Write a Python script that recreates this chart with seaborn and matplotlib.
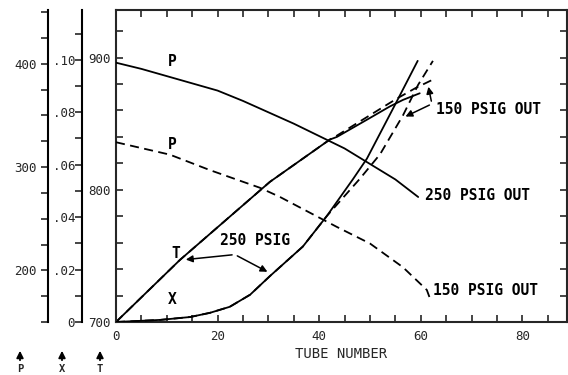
import matplotlib
matplotlib.use('Agg')
import matplotlib.pyplot as plt
from matplotlib.ticker import MultipleLocator, FuncFormatter
import seaborn as sns

# pressure P (psig) along the tubes
p250_tube = [0, 5, 10, 15, 20, 25, 30, 35, 40, 45, 50, 55, 59.5]
p_250 = [401, 395, 388, 381, 374, 364, 353, 342, 330, 318, 303, 288, 271]
p150_tube = [0, 10.6, 18.5, 28.3, 32.3, 43.5, 50, 56.5, 61.2, 61.8]
p_150 = [324, 312, 297, 280, 271, 242, 226, 203, 181, 173]

# temperature T (F)
t250_tube = [0, 12.6, 30.3, 42.1, 43.5, 49.4, 53.9, 56.5, 59.8]
t_250 = [700, 747, 806, 838, 840, 853, 863, 868, 873]
t150_tube = [0, 12.6, 30.3, 42.1, 43.5, 49.4, 55.3, 59, 62.2]
t_150 = [700, 747, 806, 838, 841, 855, 869, 877, 883]

# quality X
x250_tube = [0, 8.7, 14.6, 18.5, 22.4, 26.4, 30.3, 36.8, 41.5, 46.7, 49.4, 55.3, 59.4]
x_250 = [0, .0008, .0019, .0035, .0058, .0104, .0175, .0288, .0404, .0546, .0623, .0842, .0996]
x150_tube = [0, 8.7, 14.6, 18.5, 22.4, 26.4, 30.3, 36.8, 41.5, 48, 52, 56.5, 59.5, 62.4]
x_150 = [0, .0008, .0019, .0035, .0058, .0104, .0175, .0288, .0404, .0546, .0640, .0788, .0905, .0996]

sns.set_style('ticks')
plt.rcParams['font.family'] = ['DejaVu Sans Mono']
plt.rcParams['axes.linewidth'] = 1.5

W, H = 568, 375
fig = plt.figure(figsize=(W / 100, H / 100), dpi=100)
ax = fig.add_axes([116 / W, 1 - 322 / H, 451 / W, 312 / H])
ax_p = ax.twinx()
ax_x = ax.twinx()

solid = dict(color='black', lw=1.3)
dash = dict(color='black', lw=1.3, linestyle=(0, (5, 3)))

sns.lineplot(x=t250_tube, y=t_250, ax=ax, **solid)
sns.lineplot(x=t150_tube, y=t_150, ax=ax, **dash)
sns.lineplot(x=p250_tube, y=p_250, ax=ax_p, **solid)
sns.lineplot(x=p150_tube, y=p_150, ax=ax_p, **dash)
sns.lineplot(x=x250_tube, y=x_250, ax=ax_x, **solid)
sns.lineplot(x=x150_tube, y=x_150, ax=ax_x, **dash)

# main axes: tube number / temperature
ax.set_xlim(0, 88.8)
ax.set_ylim(700, 936)
ax.xaxis.set_major_locator(MultipleLocator(20))
ax.xaxis.set_minor_locator(MultipleLocator(5))
ax.yaxis.set_major_locator(MultipleLocator(100))
ax.yaxis.set_minor_locator(MultipleLocator(20))
ax.tick_params(which='both', direction='in', top=True, right=True, left=True,
               bottom=True, labelright=False, labeltop=False, width=1.2, length=5)
ax.tick_params(axis='x', labelsize=9, pad=6)
ax.tick_params(axis='y', labelsize=9, pad=4)
ax.set_xlabel('TUBE NUMBER', fontsize=10, labelpad=3)
ax.set_ylabel('')

for a, pos in ((ax_p, (48 - 116) / 451), (ax_x, (82 - 116) / 451)):
    a.patch.set_visible(False)
    for s in ('top', 'right', 'bottom'):
        a.spines[s].set_visible(False)
    a.spines['left'].set_visible(True)
    a.spines['left'].set_position(('axes', pos))
    a.spines['left'].set_linewidth(1.5)
    a.spines['left'].set_color('black')
    a.yaxis.set_ticks_position('left')
    a.yaxis.set_label_position('left')
    a.set_ylabel('')
    a.tick_params(which='both', direction='out', length=5, width=1.2, labelsize=9)

ax_p.set_ylim(150, 452)
ax_p.yaxis.set_major_locator(MultipleLocator(25))
ax_p.yaxis.set_major_formatter(FuncFormatter(lambda v, _: f'{v:.0f}' if round(v) % 100 == 0 else ''))
ax_p.tick_params(pad=3)

ax_x.set_ylim(0, 0.119)
ax_x.yaxis.set_major_locator(MultipleLocator(0.01))


def qfmt(v, _):
    n = int(round(v * 100))
    if n % 2:
        return ''
    return '0' if n == 0 else f'{v:.2f}'.lstrip('0')


ax_x.yaxis.set_major_formatter(FuncFormatter(qfmt))
ax_x.tick_params(pad=0)

# curve labels
txt = dict(fontsize=10.5, fontweight='bold', color='black')
ax.text(11, 897, 'P', ha='center', va='center', **txt)
ax.text(11, 834, 'P', ha='center', va='center', **txt)
ax.text(11.8, 752, 'T', ha='center', va='center', **txt)
ax.text(11, 717, 'X', ha='center', va='center', **txt)
ax.text(27.4, 762, '250 PSIG', ha='center', va='center', **txt)
ax.text(60.8, 796, '250 PSIG OUT', ha='left', va='center', **txt)
ax.text(63, 861, '150 PSIG OUT', ha='left', va='center', **txt)
ax.text(62.4, 723.5, '150 PSIG OUT', ha='left', va='center', **txt)

arrow = dict(arrowstyle='-|>', color='black', lw=1.1, mutation_scale=10)
ax.annotate('', xy=(13.2, 747), xytext=(23.4, 751), arrowprops=arrow)
ax.annotate('', xy=(30.3, 737), xytext=(23.4, 751), arrowprops=arrow)
ax.annotate('', xy=(61.4, 880), xytext=(62.2, 865), arrowprops=arrow)
ax.annotate('', xy=(56.5, 854.5), xytext=(62.2, 865), arrowprops=arrow)

# axis key arrows under the scales
for px, letter in ((20, 'P'), (62, 'X'), (100, 'T')):
    ax.annotate('', xy=(px / W, 1 - 348 / H), xytext=(px / W, 1 - 363 / H),
                xycoords='figure fraction', textcoords='figure fraction',
                arrowprops=dict(arrowstyle='-|>', color='black', lw=1.3, mutation_scale=10),
                annotation_clip=False)
    fig.text(px / W, 1 - 364 / H, letter, ha='center', va='top', fontsize=7.5, fontweight='bold')

fig.savefig('out.png', dpi=100)
